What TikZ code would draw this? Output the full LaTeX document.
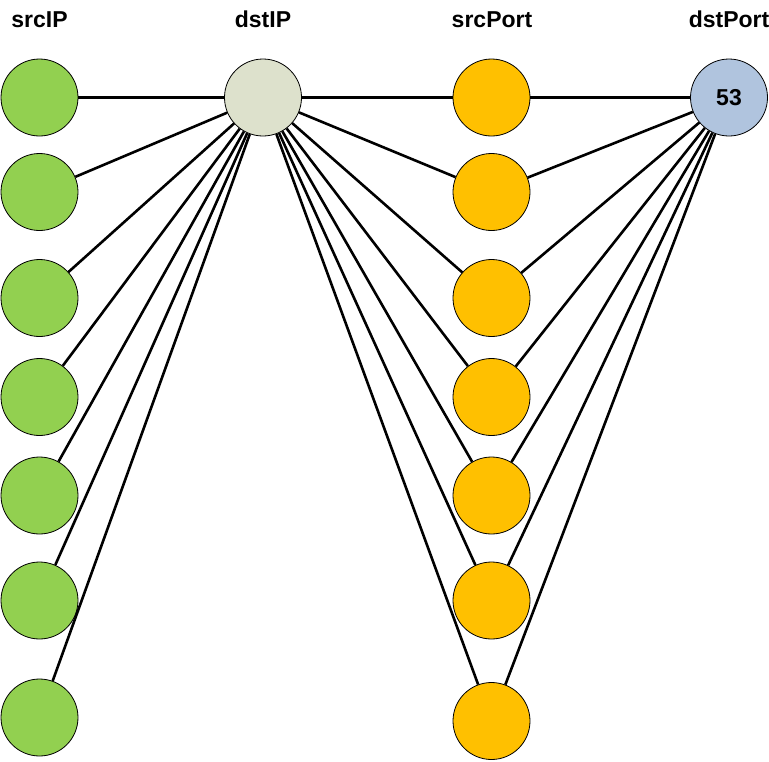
\documentclass[tikz,border=0pt]{standalone}
\usepackage{fontspec}
\setmainfont{Liberation Sans}
\definecolor{cgreen}{HTML}{92D050}
\definecolor{cgrey}{HTML}{DDE1CC}
\definecolor{corange}{HTML}{FFC000}
\definecolor{cblue}{HTML}{B0C4DE}
\begin{document}
\begin{tikzpicture}[x=1pt,y=-1pt,
  vert/.style={circle,draw=black,line width=0.8pt,minimum size=77pt,inner sep=0pt},
  hdr/.style={font=\fontsize{23}{26}\selectfont\bfseries,anchor=base},
  edge/.style={line width=2.6pt}]
\useasboundingbox (0,0) rectangle (769,761);
\node[hdr] (h1) at (39.5,27.5) {srcIP};
\node[hdr] (h2) at (263,27.5) {dstIP};
\node[hdr] (h3) at (492,27.5) {srcPort};
\node[hdr] (h4) at (729,27.5) {dstPort};
\foreach \i/\y in {1/97.5,2/192,3/298,4/397,5/495.5,6/600.5,7/717.5}
  \node[vert,fill=cgreen] (s\i) at (39.5,\y) {};
\foreach \i/\y in {1/97.5,2/192,3/298,4/397,5/495.5,6/600.5,7/721}
  \node[vert,fill=corange] (p\i) at (491.5,\y) {};
\node[vert,fill=cgrey] (d) at (263,97.5) {};
\node[vert,fill=cblue,font=\fontsize{23}{26}\selectfont\bfseries] (q) at (729,97.5) {53};
\foreach \i in {1,...,7} {
  \draw[edge] (d) -- (s\i);
  \draw[edge] (d) -- (p\i);
  \draw[edge] (q) -- (p\i);
}
\end{tikzpicture}
\end{document}
